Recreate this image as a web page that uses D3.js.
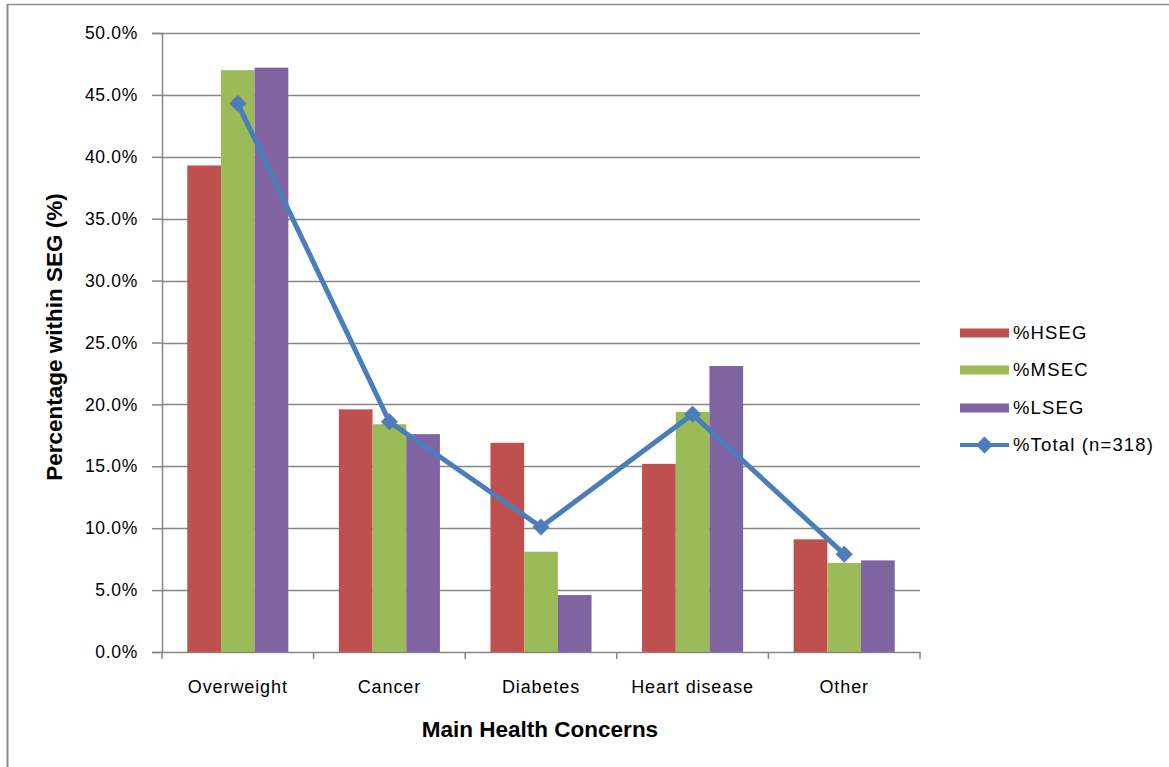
<!DOCTYPE html>
<html>
<head>
<meta charset="utf-8">
<script src="https://cdn.jsdelivr.net/npm/d3@7"></script>
<style>
  html, body { margin: 0; padding: 0; background: #fff; }
  svg text { font-family: "Liberation Sans", Arial, sans-serif; fill: #000; }
</style>
</head>
<body>
<svg id="chart" width="1169" height="767"></svg>
<script>
// Main health concerns by socio-economic group
const categories = ["Overweight", "Cancer", "Diabetes", "Heart disease", "Other"];
const seriesNames = ["%HSEG", "%MSEC", "%LSEG"];
const hseg = [39.3, 19.6, 16.9, 15.2, 9.1];
const msec = [47.0, 18.4, 8.1, 19.4, 7.2];
const lseg = [47.2, 17.6, 4.6, 23.1, 7.4];
const total = [44.3, 18.6, 10.1, 19.2, 7.9];
const totalName = "%Total (n=318)";
const yTicks = [0, 5, 10, 15, 20, 25, 30, 35, 40, 45, 50];
const barColors = ["#C0504D", "#9BBB59", "#8064A2"];
const lineColor = "#4A7EBB";

const svg = d3.select("#chart");
const plot = { left: 162, right: 920, top: 33, bottom: 652 };

// frame lines
svg.append("line").attr("x1", 7).attr("x2", 1169).attr("y1", 4.5).attr("y2", 4.5)
  .attr("stroke", "#8c8c8c").attr("stroke-width", 1.5);
svg.append("line").attr("x1", 7.5).attr("x2", 7.5).attr("y1", 4).attr("y2", 767)
  .attr("stroke", "#8c8c8c").attr("stroke-width", 2);

const x = d3.scaleBand().domain(categories).range([plot.left, plot.right]).paddingInner(0).paddingOuter(0);
const groupPad = x.bandwidth() / 6;
const xs = d3.scaleBand().domain(seriesNames).range([groupPad, x.bandwidth() - groupPad]);
const y = d3.scaleLinear().domain([0, 50]).range([plot.bottom, plot.top]);

// gridlines
svg.append("g").selectAll("line").data(yTicks.filter(t => t > 0)).join("line")
  .attr("x1", plot.left).attr("x2", plot.right)
  .attr("y1", d => Math.round(y(d)) + 0.5).attr("y2", d => Math.round(y(d)) + 0.5)
  .attr("stroke", "#868686").attr("stroke-width", 1.5);

// bars
const seriesData = [hseg, msec, lseg];
seriesData.forEach((vals, si) => {
  svg.append("g").selectAll("rect").data(vals).join("rect")
    .attr("x", (d, i) => x(categories[i]) + xs(seriesNames[si]))
    .attr("width", xs.bandwidth())
    .attr("y", d => y(d))
    .attr("height", d => y(0) - y(d))
    .attr("fill", barColors[si]);
});

// y axis
const yAxis = d3.axisLeft(y).tickValues(yTicks).tickSize(10).tickPadding(14)
  .tickFormat(d => d3.format(".1f")(d) + "%");
const ya = svg.append("g").attr("transform", `translate(${plot.left},0)`).call(yAxis);
ya.select(".domain").attr("stroke", "#868686").attr("stroke-width", 1.5);
ya.selectAll(".tick line").attr("stroke", "#868686").attr("stroke-width", 1.5);
ya.selectAll(".tick text").attr("font-size", 17.5).style("font-family", "Liberation Sans, Arial, sans-serif")
  .attr("letter-spacing", 0.7);

// x axis
const xa = svg.append("g").attr("transform", `translate(0,${plot.bottom})`)
  .call(d3.axisBottom(x).tickSize(0).tickPadding(28));
xa.select(".domain").attr("stroke", "#868686").attr("stroke-width", 1.5);
xa.selectAll(".tick text").attr("font-size", 18).style("font-family", "Liberation Sans, Arial, sans-serif")
  .attr("letter-spacing", 0.9);
// category boundary ticks
const bounds = categories.map(c => x(c)).concat([plot.right]);
svg.append("g").selectAll("line").data(bounds).join("line")
  .attr("x1", d => d).attr("x2", d => d).attr("y1", plot.bottom).attr("y2", plot.bottom + 7)
  .attr("stroke", "#868686").attr("stroke-width", 1.5);

// total line with diamond markers
const cx = c => x(c) + x.bandwidth() / 2;
const line = d3.line().x((d, i) => cx(categories[i])).y(d => y(d));
svg.append("path").datum(total).attr("d", line)
  .attr("fill", "none").attr("stroke", lineColor).attr("stroke-width", 5).attr("stroke-linejoin", "round");
const diamond = d3.symbol().type(d3.symbolDiamond2).size(175);
svg.append("g").selectAll("path").data(total).join("path")
  .attr("transform", (d, i) => `translate(${cx(categories[i])},${y(d)})`)
  .attr("d", diamond).attr("fill", lineColor).attr("stroke", "#7d6ba8").attr("stroke-width", 0.6);

// axis titles
svg.append("text").attr("x", 540).attr("y", 737).attr("text-anchor", "middle")
  .attr("font-size", 22.5).attr("font-weight", "bold").text("Main Health Concerns");
svg.append("text").attr("transform", "translate(62,337) rotate(-90)").attr("text-anchor", "middle")
  .attr("font-size", 22.5).attr("font-weight", "bold").text("Percentage within SEG (%)");

// legend
const legY = [333, 370, 408, 445];
const leg = svg.append("g");
seriesNames.forEach((name, i) => {
  leg.append("rect").attr("x", 960).attr("y", legY[i] - 4.5).attr("width", 49).attr("height", 9)
    .attr("fill", barColors[i]);
  leg.append("text").attr("x", 1013).attr("y", legY[i]).attr("dy", "0.35em")
    .attr("font-size", 18.5).attr("letter-spacing", 1.15).text(name);
});
leg.append("line").attr("x1", 960).attr("x2", 1009).attr("y1", legY[3]).attr("y2", legY[3])
  .attr("stroke", lineColor).attr("stroke-width", 4);
leg.append("path").attr("transform", `translate(984.5,${legY[3]})`).attr("d", diamond)
  .attr("fill", lineColor).attr("stroke", "#7d6ba8").attr("stroke-width", 0.6);
leg.append("text").attr("x", 1013).attr("y", legY[3]).attr("dy", "0.35em")
  .attr("font-size", 18.5).attr("letter-spacing", 1.15).text(totalName);
</script>
</body>
</html>
